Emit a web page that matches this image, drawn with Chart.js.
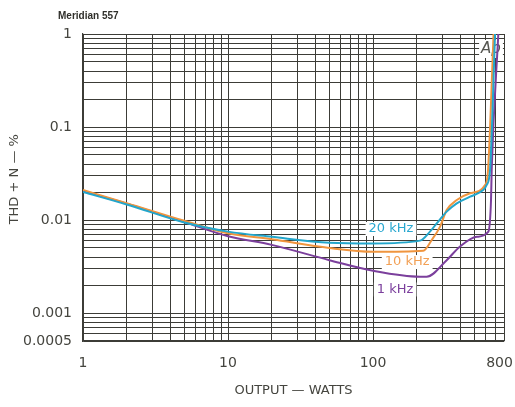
<!DOCTYPE html>
<html>
<head>
<meta charset="utf-8">
<script src="https://cdn.jsdelivr.net/npm/chart.js@4.4.1/dist/chart.umd.min.js"></script>
<style>
  html, body { margin: 0; padding: 0; background: #fff; }
  #wrap { width: 515px; height: 407px; position: relative; }
</style>
</head>
<body>
<div id="wrap"><canvas id="myChart"></canvas></div>
<script>
// 出力 (W) と THD+N (%) を曲線ごとに
const watts20k = [1, 2, 5, 10, 20, 50, 100, 211, 247, 275, 322, 378, 467, 574, 608, 641, 694];
const thd20k   = [0.020, 0.0147, 0.0094, 0.0075, 0.0066, 0.0057, 0.0056, 0.0060, 0.0075, 0.0092, 0.0123, 0.0151, 0.0178, 0.021, 0.0238, 0.0345, 1];

const watts10k = [1, 2, 5, 10, 20, 50, 100, 222, 254, 290, 322, 378, 467, 592, 621, 678];
const thd10k   = [0.021, 0.0152, 0.0098, 0.0072, 0.0062, 0.0050, 0.00456, 0.00468, 0.0061, 0.0085, 0.0128, 0.0164, 0.0194, 0.0238, 0.0345, 1];

const watts1k = [1, 2, 5, 10, 20, 50, 100, 211, 234, 322, 398, 519, 624, 651, 658, 731];
const thd1k   = [0.0205, 0.015, 0.0095, 0.0067, 0.0054, 0.0037, 0.00285, 0.00246, 0.00246, 0.0037, 0.0052, 0.0066, 0.0075, 0.0164, 0.0345, 1];

const seriesNames = ['20 kHz', '10 kHz', '1 kHz'];
const xTickLabels = [1, 10, 100, 800];
const yTickLabels = [1, 0.1, 0.01, 0.001, 0.0005];

const colors = {
    '20 kHz': '#23a6cb',
    '10 kHz': '#f0953e',
    '1 kHz': '#7b3f9c'
};
const gridColor = '#3c3c37';
const textColor = '#45453f';

// 曲線ラベルの位置 (データ座標)
const curveLabels = [
    { text: '20 kHz', x: 133, y: 0.0080, color: '#2aa8d0' },
    { text: '10 kHz', x: 172, y: 0.00353, color: '#f2a055' },
    { text: '1 kHz',  x: 142, y: 0.00179, color: '#7b3f9c' }
];

function toPoints(xs, ys) {
    return xs.map((x, i) => ({ x: x, y: ys[i] }));
}

// 対数グリッド: 各ディケードの 1..9
function logTicks(min, max) {
    const out = [];
    const e0 = Math.floor(Math.log10(min));
    const e1 = Math.ceil(Math.log10(max));
    for (let e = e0; e <= e1; e++) {
        for (let m = 1; m <= 9; m++) {
            const v = m * Math.pow(10, e);
            if (v >= min * 0.9999 && v <= max * 1.0001) out.push(v);
        }
    }
    return out;
}

function isLabelled(v, list) {
    return list.some(t => Math.abs(v / t - 1) < 1e-6);
}

const annotationPlugin = {
    id: 'annotations',
    beforeDatasetsDraw(chart) {
        const { ctx, scales: { x, y } } = chart;
        ctx.save();
        ctx.font = '13px "DejaVu Sans"';
        ctx.textAlign = 'center';
        ctx.textBaseline = 'middle';
        curveLabels.forEach(l => {
            const px = x.getPixelForValue(l.x);
            const py = y.getPixelForValue(l.y);
            const w = ctx.measureText(l.text).width;
            ctx.fillStyle = '#fff';
            ctx.fillRect(px - w / 2 - 3, py - 7, w + 6, 14);
            ctx.fillStyle = l.color;
            ctx.fillText(l.text, px, py);
        });
        // Ap マーク
        const ax = chart.chartArea.right - 13;
        const ay = chart.chartArea.top + 15;
        ctx.font = 'italic 15px "DejaVu Sans"';
        const aw = ctx.measureText('Ap').width;
        ctx.fillStyle = '#fff';
        ctx.fillRect(ax - aw / 2 - 2, ay - 9, aw + 4, 18);
        ctx.fillStyle = '#555550';
        ctx.fillText('Ap', ax, ay);
        ctx.restore();
    },
    afterDraw(chart) {
        const { ctx } = chart;
        ctx.save();
        ctx.font = 'bold 10px "Liberation Sans"';
        ctx.fillStyle = '#2f2f2a';
        ctx.textAlign = 'left';
        ctx.textBaseline = 'middle';
        ctx.fillText('Meridian 557', 58, 16);
        ctx.restore();
    }
};

const ctx = document.getElementById('myChart').getContext('2d');
new Chart(ctx, {
    type: 'line',
    data: {
        datasets: [
            { label: seriesNames[0], data: toPoints(watts20k, thd20k), borderColor: colors['20 kHz'] },
            { label: seriesNames[1], data: toPoints(watts10k, thd10k), borderColor: colors['10 kHz'] },
            { label: seriesNames[2], data: toPoints(watts1k, thd1k), borderColor: colors['1 kHz'] }
        ].map(d => Object.assign(d, {
            borderWidth: 2,
            pointRadius: 0,
            fill: false,
            cubicInterpolationMode: 'monotone'
        }))
    },
    options: {
        responsive: true,
        maintainAspectRatio: false,
        animation: false,
        layout: { padding: { top: 34, right: 11, left: 0, bottom: 0 } },
        plugins: {
            legend: { display: false },
            tooltip: { enabled: false }
        },
        scales: {
            x: {
                type: 'logarithmic',
                min: 1,
                max: 800,
                afterBuildTicks: s => { s.ticks = logTicks(1, 800).map(v => ({ value: v })); },
                afterFit: s => { s.height = 66; s.paddingLeft = 0; s.paddingRight = 0; },
                grid: { color: gridColor, lineWidth: 1, drawTicks: false },
                border: { display: true, color: gridColor, width: 1.2 },
                ticks: {
                    autoSkip: false,
                    maxRotation: 0,
                    padding: 14,
                    color: textColor,
                    font: { family: 'DejaVu Sans', size: 14 },
                    callback: v => isLabelled(v, xTickLabels) ? (v === 800 ? '800  ' : String(v)) : ''
                },
                title: {
                    display: true,
                    text: 'OUTPUT — WATTS',
                    color: textColor,
                    font: { family: 'DejaVu Sans', size: 13 },
                    padding: { top: 0, bottom: 9 }
                }
            },
            y: {
                type: 'logarithmic',
                min: 0.0005,
                max: 1,
                afterBuildTicks: s => { s.ticks = logTicks(0.0005, 1).map(v => ({ value: v })); },
                afterFit: s => { s.width = 83; s.paddingTop = 0; s.paddingBottom = 0; },
                grid: { color: gridColor, lineWidth: 1, drawTicks: false },
                border: { display: true, color: gridColor, width: 1.2 },
                ticks: {
                    autoSkip: false,
                    padding: 11,
                    color: textColor,
                    font: { family: 'DejaVu Sans', size: 14 },
                    callback: v => {
                        const t = yTickLabels.find(t => Math.abs(v / t - 1) < 1e-6);
                        return t === undefined ? '' : String(t);
                    }
                },
                title: {
                    display: true,
                    text: '    THD + N — %',
                    color: textColor,
                    font: { family: 'DejaVu Sans', size: 13 },
                    padding: { top: 7, bottom: 0 }
                }
            }
        }
    },
    plugins: [annotationPlugin]
});
</script>
</body>
</html>
